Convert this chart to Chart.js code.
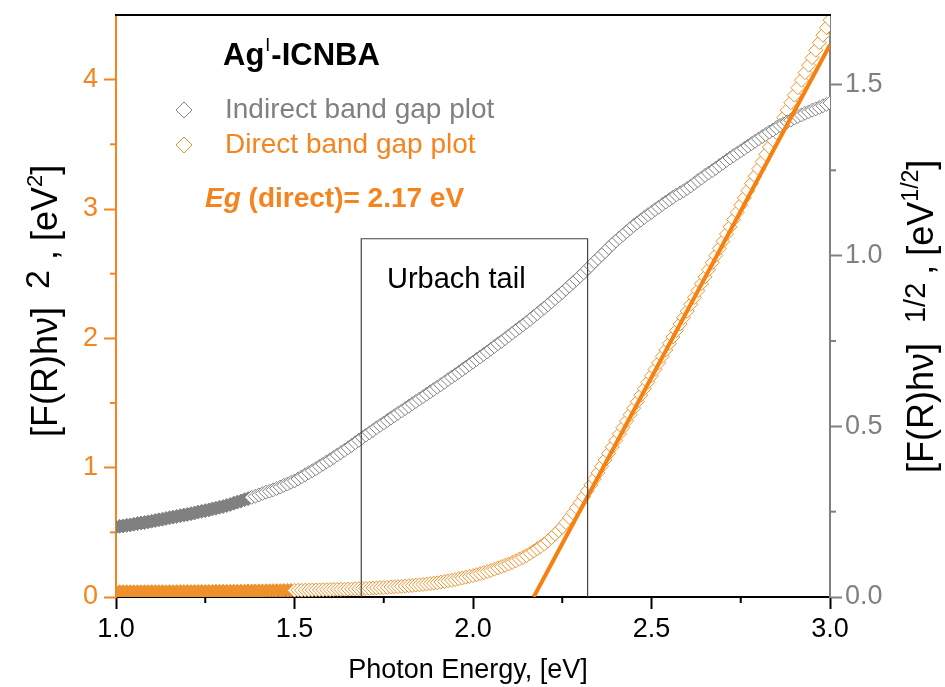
<!DOCTYPE html>
<html><head><meta charset="utf-8">
<script src="https://cdn.jsdelivr.net/npm/chart.js@4.4.1/dist/chart.umd.min.js"></script>
<style>html,body{margin:0;padding:0;background:#fff;}#wrap{width:945px;height:687px;position:relative;}</style>
</head><body><div id="wrap"><canvas id="c"></canvas></div>
<script>
const energy = [
1.00,1.01,1.02,1.03,1.04,1.05,1.06,1.07,1.08,1.09,
1.10,1.11,1.12,1.13,1.14,1.15,1.16,1.17,1.18,1.19,
1.20,1.21,1.22,1.23,1.24,1.25,1.26,1.27,1.28,1.29,
1.30,1.31,1.32,1.33,1.34,1.35,1.36,1.37,1.38,1.39,
1.40,1.41,1.42,1.43,1.44,1.45,1.46,1.47,1.48,1.49,
1.50,1.51,1.52,1.53,1.54,1.55,1.56,1.57,1.58,1.59,
1.60,1.61,1.62,1.63,1.64,1.65,1.66,1.67,1.68,1.69,
1.70,1.71,1.72,1.73,1.74,1.75,1.76,1.77,1.78,1.79,
1.80,1.81,1.82,1.83,1.84,1.85,1.86,1.87,1.88,1.89,
1.90,1.91,1.92,1.93,1.94,1.95,1.96,1.97,1.98,1.99,
2.00,2.01,2.02,2.03,2.04,2.05,2.06,2.07,2.08,2.09,
2.10,2.11,2.12,2.13,2.14,2.15,2.16,2.17,2.18,2.19,
2.20,2.21,2.22,2.23,2.24,2.25,2.26,2.27,2.28,2.29,
2.30,2.31,2.32,2.33,2.34,2.35,2.36,2.37,2.38,2.39,
2.40,2.41,2.42,2.43,2.44,2.45,2.46,2.47,2.48,2.49,
2.50,2.51,2.52,2.53,2.54,2.55,2.56,2.57,2.58,2.59,
2.60,2.61,2.62,2.63,2.64,2.65,2.66,2.67,2.68,2.69,
2.70,2.71,2.72,2.73,2.74,2.75,2.76,2.77,2.78,2.79,
2.80,2.81,2.82,2.83,2.84,2.85,2.86,2.87,2.88,2.89,
2.90,2.91,2.92,2.93,2.94,2.95,2.96,2.97,2.98,2.99,
3.00];
// Indirect band gap plot, [F(R)hv]^(1/2), right axis
const indirect = [
0.205,0.207,0.208,0.210,0.211,0.213,0.215,0.217,0.218,0.220,
0.222,0.224,0.226,0.228,0.230,0.232,0.234,0.236,0.238,0.240,
0.242,0.244,0.246,0.249,0.251,0.253,0.255,0.258,0.260,0.263,
0.265,0.268,0.271,0.275,0.278,0.281,0.285,0.288,0.292,0.295,
0.299,0.303,0.307,0.310,0.314,0.318,0.322,0.327,0.331,0.336,
0.340,0.346,0.352,0.358,0.364,0.370,0.376,0.383,0.389,0.396,
0.402,0.409,0.416,0.423,0.430,0.437,0.444,0.452,0.459,0.467,
0.474,0.481,0.488,0.496,0.503,0.510,0.517,0.524,0.531,0.538,
0.545,0.552,0.559,0.566,0.573,0.580,0.587,0.594,0.601,0.608,
0.615,0.622,0.629,0.637,0.644,0.651,0.658,0.666,0.673,0.681,
0.688,0.696,0.703,0.711,0.718,0.726,0.734,0.742,0.749,0.757,
0.765,0.773,0.781,0.789,0.797,0.805,0.813,0.822,0.830,0.839,
0.847,0.856,0.865,0.874,0.883,0.892,0.902,0.911,0.921,0.930,
0.940,0.950,0.961,0.971,0.982,0.992,1.002,1.012,1.023,1.033,
1.043,1.052,1.061,1.070,1.079,1.088,1.096,1.104,1.112,1.120,
1.127,1.135,1.142,1.150,1.157,1.164,1.171,1.178,1.184,1.190,
1.197,1.204,1.212,1.220,1.227,1.235,1.242,1.249,1.256,1.264,
1.271,1.279,1.286,1.293,1.300,1.307,1.314,1.321,1.328,1.335,
1.342,1.349,1.355,1.362,1.368,1.375,1.381,1.386,1.392,1.397,
1.403,1.408,1.412,1.417,1.421,1.426,1.430,1.434,1.439,1.443,
1.447];
// Direct band gap plot, [F(R)hv]^2, left axis
const direct = [
0.040,0.040,0.040,0.040,0.040,0.040,0.040,0.040,0.041,0.041,
0.041,0.041,0.041,0.041,0.041,0.041,0.041,0.041,0.042,0.042,
0.042,0.042,0.042,0.043,0.043,0.043,0.043,0.043,0.044,0.044,
0.044,0.044,0.044,0.045,0.045,0.045,0.045,0.046,0.046,0.047,
0.047,0.047,0.048,0.048,0.049,0.049,0.049,0.050,0.050,0.051,
0.051,0.052,0.052,0.053,0.053,0.054,0.055,0.055,0.056,0.056,
0.057,0.058,0.059,0.059,0.060,0.061,0.062,0.063,0.064,0.065,
0.066,0.067,0.069,0.070,0.072,0.073,0.075,0.077,0.078,0.080,
0.082,0.084,0.087,0.089,0.092,0.094,0.097,0.100,0.104,0.107,
0.110,0.115,0.120,0.125,0.130,0.135,0.141,0.147,0.153,0.159,
0.165,0.173,0.181,0.189,0.197,0.205,0.215,0.225,0.235,0.245,
0.255,0.267,0.280,0.293,0.306,0.320,0.337,0.355,0.373,0.391,
0.410,0.434,0.459,0.486,0.513,0.540,0.576,0.613,0.651,0.690,
0.730,0.775,0.820,0.866,0.913,0.960,1.010,1.060,1.110,1.160,
1.210,1.260,1.310,1.360,1.410,1.460,1.510,1.560,1.610,1.660,
1.710,1.760,1.810,1.860,1.910,1.960,2.010,2.060,2.110,2.160,
2.210,2.263,2.316,2.369,2.422,2.475,2.530,2.585,2.640,2.695,
2.750,2.806,2.862,2.918,2.974,3.030,3.086,3.142,3.198,3.254,
3.310,3.366,3.422,3.478,3.534,3.590,3.648,3.706,3.764,3.822,
3.880,3.938,3.996,4.054,4.112,4.170,4.228,4.286,4.344,4.402,
4.460];
// Linear fit of direct plot (Eg = 2.17 eV)
const fitX = [2.17, 3.00];
const fitY = [0, 4.27];
const xTicks = [1.0, 1.5, 2.0, 2.5, 3.0];
const xMinor = [1.25, 1.75, 2.25, 2.75];
const leftTicks = [0, 1, 2, 3, 4];
const leftMinor = [0.5, 1.5, 2.5, 3.5];
const rightTicks = [0.0, 0.5, 1.0, 1.5];
const rightMinor = [0.25, 0.75, 1.25];
const urbachBox = [1.687, 2.321, 2.77]; // x from, x to, top (left axis)

const ORANGE = '#F5841F';
const ORANGE_MK = 'rgb(238,145,45)';
const ORANGE_LINE = '#F7800E';
const GRAY = '#808080';
const FONT = '"Liberation Sans", Arial, sans-serif';

function fixTicks(arr){ return s => { s.ticks = arr.map(v => ({value: v})); }; }
function noPad(s){ s.paddingTop = 0; s.paddingBottom = 0; }

function diamond(ctx, x, y, r, color){
  ctx.beginPath(); ctx.moveTo(x, y - r); ctx.lineTo(x + r, y); ctx.lineTo(x, y + r); ctx.lineTo(x - r, y); ctx.closePath();
  ctx.fillStyle = '#fff'; ctx.fill(); ctx.strokeStyle = color; ctx.lineWidth = 1; ctx.stroke();
}

const deco = {
  id: 'deco',
  afterDatasetsDraw(chart){
    const ctx = chart.ctx, xs = chart.scales.x, ys = chart.scales.y;
    ctx.save();
    const x0 = xs.getPixelForValue(urbachBox[0]), x1 = xs.getPixelForValue(urbachBox[1]);
    const yt = ys.getPixelForValue(urbachBox[2]), yb = ys.getPixelForValue(0);
    ctx.strokeStyle = '#444'; ctx.lineWidth = 1.2;
    ctx.beginPath(); ctx.moveTo(x0, yb); ctx.lineTo(x0, yt); ctx.lineTo(x1, yt); ctx.lineTo(x1, yb); ctx.stroke();
    ctx.fillStyle = '#000'; ctx.font = '29px ' + FONT; ctx.textBaseline = 'alphabetic'; ctx.textAlign = 'left';
    ctx.fillText('Urbach tail', 387, 288);
    ctx.restore();
  },
  afterDraw(chart){
    const ctx = chart.ctx, a = chart.chartArea;
    const xs = chart.scales.x, ys = chart.scales.y, y2 = chart.scales.y2;
    ctx.save();
    // top frame
    ctx.strokeStyle = '#000'; ctx.lineWidth = 2;
    ctx.beginPath(); ctx.moveTo(a.left - 1, a.top); ctx.lineTo(a.right + 1, a.top); ctx.stroke();
    // minor ticks
    ctx.lineWidth = 2;
    ctx.strokeStyle = '#000';
    xMinor.forEach(v => { const p = xs.getPixelForValue(v); ctx.beginPath(); ctx.moveTo(p, a.bottom); ctx.lineTo(p, a.bottom + 6); ctx.stroke(); });
    ctx.strokeStyle = ORANGE;
    leftMinor.forEach(v => { const p = ys.getPixelForValue(v); ctx.beginPath(); ctx.moveTo(a.left, p); ctx.lineTo(a.left - 6, p); ctx.stroke(); });
    ctx.strokeStyle = GRAY;
    rightMinor.forEach(v => { const p = y2.getPixelForValue(v); ctx.beginPath(); ctx.moveTo(a.right, p); ctx.lineTo(a.right + 6, p); ctx.stroke(); });

    // title
    ctx.textBaseline = 'alphabetic'; ctx.textAlign = 'left';
    ctx.fillStyle = '#000';
    let x = 223;
    ctx.font = 'bold 31px ' + FONT; ctx.fillText('Ag', x, 65); x += ctx.measureText('Ag').width + 1;
    ctx.font = '18px ' + FONT; ctx.fillText('I', x, 51); x += ctx.measureText('I').width + 1;
    ctx.font = 'bold 31px ' + FONT; ctx.fillText('-ICNBA', x, 65);
    // legend
    diamond(ctx, 184, 110, 8, GRAY);
    diamond(ctx, 184, 145, 8, ORANGE_MK);
    ctx.font = '28px ' + FONT;
    ctx.fillStyle = GRAY; ctx.fillText('Indirect band gap plot', 225, 118);
    ctx.fillStyle = ORANGE; ctx.fillText('Direct band gap plot', 225, 153);
    // Eg
    x = 205;
    ctx.font = 'italic bold 28px ' + FONT; ctx.fillText('Eg', x, 207); x += ctx.measureText('Eg').width;
    ctx.font = 'bold 28px ' + FONT; ctx.fillText(' (direct)= 2.17 eV', x, 207);

    // x title
    ctx.fillStyle = '#000'; ctx.font = '27px ' + FONT; ctx.textAlign = 'center';
    ctx.fillText('Photon Energy, [eV]', 468, 678);

    // left title (rotated)
    ctx.textAlign = 'left';
    ctx.save();
    ctx.translate(57, 437); ctx.rotate(-Math.PI / 2);
    let t = 0;
    ctx.font = '36px ' + FONT; ctx.fillText('[F(R)hν]', t, 0); t += ctx.measureText('[F(R)hν]').width + 18;
    ctx.font = '34px ' + FONT; ctx.fillText('2', t, -8); t += ctx.measureText('2').width + 10;
    ctx.font = '36px ' + FONT; ctx.fillText(',', t, 0); t += ctx.measureText(',').width + 9;
    ctx.fillText('[eV', t, 0); t += ctx.measureText('[eV').width;
    ctx.font = '22px ' + FONT; ctx.fillText('2', t, -15); t += ctx.measureText('2').width;
    ctx.font = '36px ' + FONT; ctx.fillText(']', t, 0);
    ctx.restore();

    // right title (rotated)
    ctx.save();
    ctx.translate(933, 473); ctx.rotate(-Math.PI / 2);
    t = 0;
    ctx.font = '36px ' + FONT; ctx.fillText('[F(R)hν]', t, 0); t += ctx.measureText('[F(R)hν]').width + 20;
    ctx.font = '29px ' + FONT; ctx.fillText('1/2', t, -8); t += ctx.measureText('1/2').width + 8;
    ctx.font = '36px ' + FONT; ctx.fillText(',', t, 0); t += ctx.measureText(',').width + 9;
    ctx.fillText('[eV', t, 0); t += ctx.measureText('[eV').width;
    ctx.font = '23px ' + FONT; ctx.fillText('1/2', t, -15); t += ctx.measureText('1/2').width;
    ctx.font = '36px ' + FONT; ctx.fillText(']', t, 0);
    ctx.restore();
    ctx.restore();
  }
};

const pts = arr => energy.map((e, i) => ({x: e, y: arr[i]}));

new Chart(document.getElementById('c'), {
  type: 'scatter',
  data: {
    datasets: [
      { label: 'fit', data: fitX.map((v, i) => ({x: v, y: fitY[i]})), yAxisID: 'y', showLine: true,
        borderColor: ORANGE_LINE, borderWidth: 4, pointRadius: 0, order: 0 },
      { label: 'Indirect band gap plot', data: pts(indirect), yAxisID: 'y2',
        pointStyle: 'rectRot', pointRadius: 7, pointBorderWidth: 1, borderColor: GRAY,
        pointBorderColor: GRAY, pointBackgroundColor: c => (c.raw && c.raw.x < 1.38) ? GRAY : '#fff', order: 1 },
      { label: 'Direct band gap plot', data: pts(direct), yAxisID: 'y',
        pointStyle: 'rectRot', pointRadius: 7, pointBorderWidth: 1, borderColor: ORANGE_MK,
        pointBorderColor: ORANGE_MK, pointBackgroundColor: c => (c.raw && c.raw.x < 1.5) ? ORANGE_MK : '#fff', order: 2 }
    ]
  },
  options: {
    responsive: true, maintainAspectRatio: false, animation: false,
    layout: { padding: { top: 15, left: 0, right: 0, bottom: 0 } },
    plugins: { legend: { display: false }, tooltip: { enabled: false } },
    scales: {
      x: { type: 'linear', min: 1, max: 3, afterBuildTicks: fixTicks(xTicks),
        afterFit: s => { s.height = 90; },
        border: { color: '#000', width: 2 },
        grid: { drawOnChartArea: false, drawTicks: true, tickLength: 12, tickWidth: 2, tickColor: '#000' },
        ticks: { color: '#000', font: { family: FONT, size: 27 }, padding: 4, maxRotation: 0, callback: v => Number(v).toFixed(1) } },
      y: { position: 'left', min: 0, max: 4.5, afterBuildTicks: fixTicks(leftTicks),
        afterFit: s => { s.width = 116; noPad(s); },
        border: { color: ORANGE, width: 2 },
        grid: { drawOnChartArea: false, drawTicks: true, tickLength: 12, tickWidth: 2, tickColor: ORANGE },
        ticks: { color: ORANGE, font: { family: FONT, size: 27 }, padding: 6, callback: v => String(v) } },
      y2: { position: 'right', min: 0, max: 1.705, afterBuildTicks: fixTicks(rightTicks),
        afterFit: s => { s.width = 115; noPad(s); },
        border: { color: GRAY, width: 2 },
        grid: { drawOnChartArea: false, drawTicks: true, tickLength: 12, tickWidth: 2, tickColor: GRAY },
        ticks: { color: GRAY, font: { family: FONT, size: 27 }, padding: 3, callback: v => Number(v).toFixed(1) } }
    }
  },
  plugins: [deco]
});
</script></body></html>
